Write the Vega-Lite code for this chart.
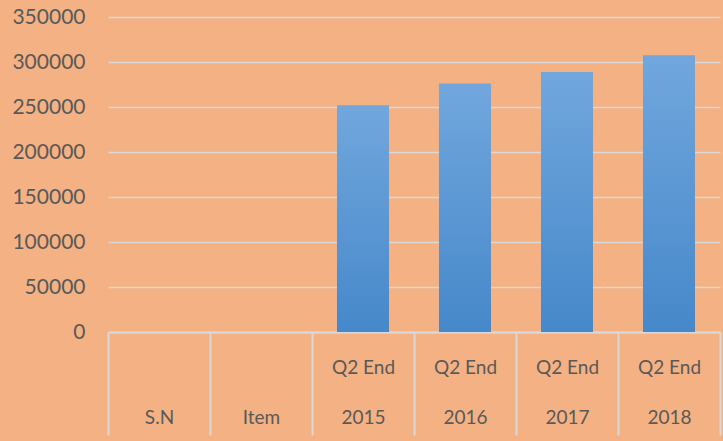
{
  "$schema": "https://vega.github.io/schema/vega-lite/v6.json",
  "width": 612,
  "height": 315,
  "autosize": "none",
  "padding": {"left": 108, "top": 17, "right": 3, "bottom": 109},
  "background": "#F4B183",
  "config": {"view": {"stroke": null}},
  "data": {
    "values": [
      {"category": "Q2 End|2015", "value": 252000},
      {"category": "Q2 End|2016", "value": 276000},
      {"category": "Q2 End|2017", "value": 289000},
      {"category": "Q2 End|2018", "value": 307500}
    ]
  },
  "mark": {
    "type": "bar",
    "width": {"band": 0.51},
    "color": {
      "gradient": "linear",
      "x1": 0, "y1": 0, "x2": 0, "y2": 1,
      "stops": [
        {"offset": 0, "color": "#71A7DD"},
        {"offset": 1, "color": "#4688CA"}
      ]
    }
  },
  "encoding": {
    "x": {
      "field": "category",
      "type": "nominal",
      "sort": null,
      "scale": {
        "domain": ["|S.N", "|Item", "Q2 End|2015", "Q2 End|2016", "Q2 End|2017", "Q2 End|2018"],
        "paddingInner": 0,
        "paddingOuter": 0
      },
      "axis": {
        "title": null,
        "labelAngle": 0,
        "labelExpr": "split(datum.label, '|')",
        "labelFont": "Lato",
        "labelFontSize": 19,
        "labelColor": "#595959",
        "labelLineHeight": 50,
        "labelBaseline": "top",
        "labelPadding": -77,
        "tickBand": "extent",
        "tickSize": 103,
        "tickWidth": 2,
        "tickColor": "#D9D9D9",
        "domainColor": "#D9D9D9",
        "domainWidth": 2,
        "grid": false
      }
    },
    "y": {
      "field": "value",
      "type": "quantitative",
      "scale": {"domain": [0, 350000]},
      "axis": {
        "title": null,
        "values": [0, 50000, 100000, 150000, 200000, 250000, 300000, 350000],
        "format": "d",
        "labelFont": "Lato",
        "labelFontSize": 21,
        "labelColor": "#595959",
        "labelPadding": 23,
        "ticks": false,
        "domain": false,
        "gridColor": "#D9D9D9",
        "gridWidth": 1.5
      }
    }
  }
}
